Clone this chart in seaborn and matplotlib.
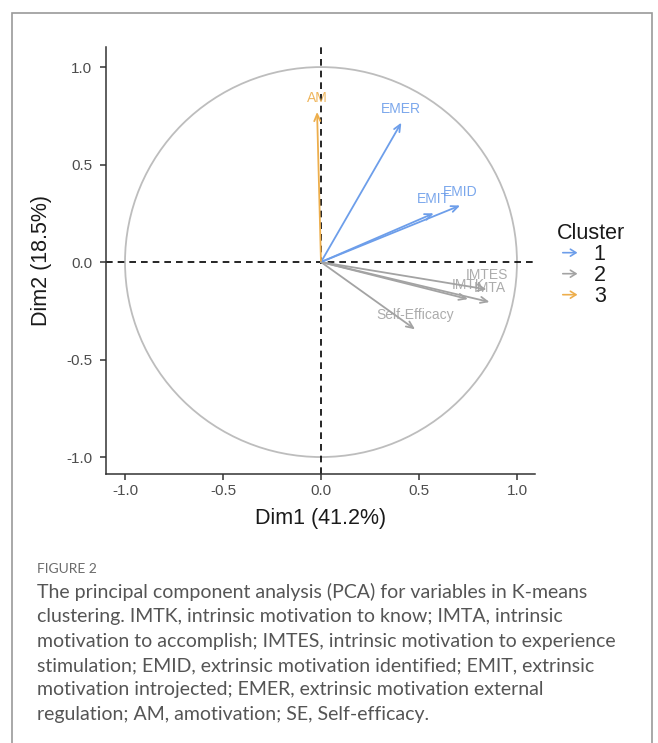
import pandas
import numpy
import seaborn as sns
import matplotlib
import matplotlib.pyplot as plt
from matplotlib.patches import Circle, Rectangle, FancyArrowPatch
from matplotlib.lines import Line2D
from matplotlib.legend_handler import HandlerBase
plt.switch_backend('agg')

# PCA variable coordinates
variables = ["IMTK", "IMTA", "IMTES", "EMID", "EMIT", "EMER", "AM", "Self-Efficacy"]
dim1 = [0.75, 0.86, 0.845, 0.71, 0.575, 0.41, -0.02, 0.48]
dim2 = [-0.19, -0.205, -0.14, 0.29, 0.25, 0.715, 0.77, -0.345]
cluster = ["2", "2", "2", "1", "1", "1", "3", "2"]
cluster_levels = ["1", "2", "3"]
cluster_colors = ["#6D9EEA", "#A3A3A3", "#EDAE4C"]

caption_title = "FIGURE 2"
caption_lines = [
    "The principal component analysis (PCA) for variables in K-means",
    "clustering. IMTK, intrinsic motivation to know; IMTA, intrinsic",
    "motivation to accomplish; IMTES, intrinsic motivation to experience",
    "stimulation; EMID, extrinsic motivation identified; EMIT, extrinsic",
    "motivation introjected; EMER, extrinsic motivation external",
    "regulation; AM, amotivation; SE, Self-efficacy.",
]


class ArrowHandler(HandlerBase):
    def create_artists(self, legend, orig_handle, xdescent, ydescent,
                       width, height, fontsize, trans):
        y = height / 2 - ydescent
        a = FancyArrowPatch((-xdescent + 2, y), (width - xdescent - 2, y),
                            arrowstyle='->,head_length=4,head_width=2.5',
                            mutation_scale=1, color=orig_handle.get_color(),
                            lw=1.2, transform=trans)
        return [a]


def makePlot(outputfile):
    df = pandas.DataFrame({'var': variables, 'Dim1': dim1, 'Dim2': dim2, 'Cluster': cluster})
    palette = dict(zip(cluster_levels, cluster_colors))

    sns.set_style("ticks")
    plt.rcParams['font.family'] = ['Liberation Sans', 'DejaVu Sans']

    fig = plt.figure(figsize=(6.58, 7.43), dpi=100)
    ax = fig.add_axes([106 / 658, 1 - 474 / 743, 429 / 658, 427 / 743])

    ax.add_patch(Circle((0, 0), 1.0, fill=False, edgecolor="#BDBDBD", lw=1.3))
    ax.axhline(0, color="black", ls=(0, (4, 3)), lw=1.2, zorder=1)
    ax.axvline(0, color="black", ls=(0, (4, 3)), lw=1.2, zorder=1)

    for _, r in df.iterrows():
        c = palette[r['Cluster']]
        ax.annotate("", xy=(r['Dim1'], r['Dim2']), xytext=(0, 0),
                    arrowprops=dict(arrowstyle='->,head_length=0.5,head_width=0.22',
                                    color=c, lw=1.3, shrinkA=0, shrinkB=0), zorder=3)
        ax.annotate(r['var'], xy=(r['Dim1'], r['Dim2']), xytext=(0, 5),
                    textcoords='offset points', ha='center', va='bottom',
                    color=c, fontsize=10, alpha=0.9, zorder=4)

    ax.set_xlim(-1.097, 1.092)
    ax.set_ylim(-1.087, 1.103)
    ax.set_xticks([-1.0, -0.5, 0.0, 0.5, 1.0])
    ax.set_yticks([-1.0, -0.5, 0.0, 0.5, 1.0])
    ax.set_xticklabels(["-1.0", "-0.5", "0.0", "0.5", "1.0"])
    ax.set_yticklabels(["-1.0", "-0.5", "0.0", "0.5", "1.0"])
    ax.tick_params(labelsize=11, labelcolor="#4D4D4D", color="#333333", length=4, width=1.1)
    ax.tick_params(axis='y', pad=6)
    sns.despine(ax=ax)
    for s in ['left', 'bottom']:
        ax.spines[s].set_color("#333333")
        ax.spines[s].set_linewidth(1.1)
    ax.set_xlabel("Dim1 (41.2%)", fontsize=15.5, color="#1A1A1A", labelpad=7)
    ax.set_ylabel("Dim2 (18.5%)", fontsize=15.5, color="#1A1A1A", labelpad=10)

    handles = [Line2D([], [], color=palette[k]) for k in cluster_levels]
    leg = fig.legend(handles, cluster_levels, title="Cluster", loc='upper left',
                     bbox_to_anchor=(540 / 658, 1 - 206 / 743), frameon=False,
                     handler_map={Line2D: ArrowHandler()}, fontsize=15.5,
                     title_fontsize=15.5, handlelength=1.2, handletextpad=0.5,
                     labelspacing=0.0, alignment='left', borderpad=0.3)
    leg.get_title().set_color("#1A1A1A")
    for t in leg.get_texts():
        t.set_color("#1A1A1A")

    # outer frame and caption
    fig.patches.append(Rectangle((12 / 658, -0.05), 640 / 658, 1.05 - 13 / 743,
                                 transform=fig.transFigure, fill=False,
                                 edgecolor="#9A9A9A", lw=1.2))
    cap_font = ['Lato', 'DejaVu Sans']
    fig.text(37 / 658, 1 - 569 / 743, caption_title, family=cap_font, fontsize=10,
             color="#6B6B6B", va='center', ha='left')
    for i, line in enumerate(caption_lines):
        fig.text(37 / 658, 1 - (592 + 24.5 * i) / 743, line, family=cap_font,
                 fontsize=14, color="#555555", va='center', ha='left')

    fig.savefig(outputfile, dpi=100)


if __name__ == '__main__':
    makePlot("out.png")
